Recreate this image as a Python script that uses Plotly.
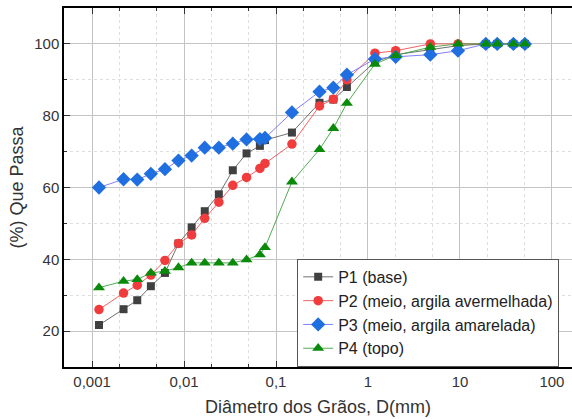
import plotly.graph_objects as go

diam = [0.00119, 0.0022, 0.0031, 0.00436, 0.0062, 0.0087, 0.0121, 0.0168, 0.0239, 0.0339,
        0.0478, 0.0668, 0.0759, 0.149, 0.297, 0.42, 0.59, 1.19, 2.0, 4.76, 9.52, 19.1, 25.4, 38.1, 50.8]

p1 = [21.7, 26.1, 28.6, 32.5, 36.2, 44.4, 48.9, 53.4, 58.1, 64.8, 69.5, 71.6, 73.2, 75.3, 83.6,
      84.5, 88.0, 95.0, 97.0, 98.5, 99.5, 100, 100, 100, 100]
p2 = [26.0, 30.6, 32.8, 35.6, 39.7, 44.4, 46.8, 51.4, 55.9, 60.6, 62.8, 65.3, 66.7, 72.1, 82.7,
      84.6, 90.0, 97.4, 98.1, 100, 100, 100, 100, 100, 100]
p3 = [60.0, 62.3, 62.2, 63.8, 65.1, 67.5, 68.9, 71.1, 71.1, 72.2, 73.4, 73.5, 73.8, 80.9, 86.7,
      87.8, 91.4, 95.8, 96.4, 97.0, 98.1, 100, 100, 100, 100]
p4 = [32.1, 33.9, 34.4, 36.2, 36.7, 37.7, 39.0, 39.0, 39.0, 39.0, 39.9, 41.3, 43.3, 61.6, 70.6,
      76.5, 83.5, 94.4, 96.8, 99.1, 100, 100, 100, 100, 100]

names = ["P1 (base)", "P2 (meio, argila avermelhada)", "P3 (meio, argila amarelada)", "P4 (topo)"]

x_tickvals = [0.001, 0.01, 0.1, 1, 10, 100]
x_ticktext = ["0,001", "0,01", "0,1", "1", "10", "100"]
y_tickvals = [20, 40, 60, 80, 100]

styles = [
    dict(symbol="square", size=8, mcolor="#404040", lcolor="#606060"),
    dict(symbol="circle", size=9.5, mcolor="#f03c3c", lcolor="#f05050"),
    dict(symbol="diamond", size=11, mcolor="#1f6fe0", lcolor="#7070ff"),
    dict(symbol="triangle-up", size=10.5, mcolor="#0a8a0a", lcolor="#40a040"),
]

fig = go.Figure()
for vals, name, st in zip([p1, p2, p3, p4], names, styles):
    fig.add_trace(go.Scatter(
        x=diam, y=vals, name=name, mode="lines+markers",
        line=dict(color=st["lcolor"], width=0.9),
        marker=dict(symbol=st["symbol"], size=st["size"], color=st["mcolor"], line=dict(width=0)),
    ))

font_family = "Liberation Sans, Arial, sans-serif"

fig.update_layout(
    width=572, height=419,
    margin=dict(l=64, r=0, t=8, b=52),
    paper_bgcolor="white", plot_bgcolor="white",
    font=dict(family=font_family, color="#333333", size=15),
    showlegend=True,
    legend=dict(
        x=0.459, y=0.301, xanchor="left", yanchor="top",
        bordercolor="#555555", borderwidth=1, bgcolor="white",
        font=dict(size=16, color="#222222"),
        itemwidth=30, tracegroupgap=0,
    ),
    xaxis=dict(
        type="log", range=[-3.305, 2.218],
        tickvals=x_tickvals, ticktext=x_ticktext,
        showline=True, linecolor="black", linewidth=1.5, mirror="ticks",
        ticks="inside", ticklen=6, tickcolor="#333",
        showgrid=True, gridcolor="#c4c4c4", gridwidth=1,
        minor=dict(showgrid=True, gridcolor="#dedede", griddash="dot",
                   ticks="inside", ticklen=3, tickcolor="#333"),
        tickfont=dict(size=15, color="#333333"),
        title=dict(text="Diâmetro dos Grãos, D(mm)", font=dict(size=18, color="#333333"), standoff=12),
        zeroline=False,
    ),
    yaxis=dict(
        range=[10, 110], tickvals=y_tickvals,
        showline=True, linecolor="black", linewidth=1.5, mirror=False,
        ticks="inside", ticklen=6, tickcolor="#333",
        showgrid=True, gridcolor="#c4c4c4", gridwidth=1,
        minor=dict(dtick=10, tick0=0, showgrid=True, gridcolor="#dedede", griddash="dot",
                   ticks="inside", ticklen=3, tickcolor="#333"),
        tickfont=dict(size=15, color="#333333"),
        title=dict(text="(%) Que Passa", font=dict(size=18, color="#333333"), standoff=6),
        zeroline=False,
    ),
)

fig.write_html("out.html")
